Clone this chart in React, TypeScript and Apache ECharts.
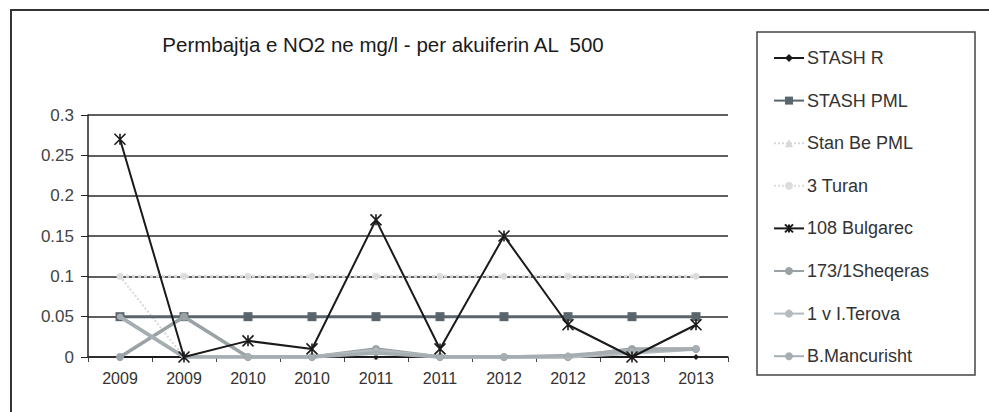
import React, { useEffect, useRef } from "react";
import * as echarts from "echarts";

const categories = ["2009", "2009", "2010", "2010", "2011", "2011", "2012", "2012", "2013", "2013"];
const seriesNames = ["STASH R", "STASH PML", "Stan Be PML", "3 Turan", "108 Bulgarec", "173/1Sheqeras", "1 v I.Terova", "B.Mancurisht"];
const stashR = [0, 0, 0, 0, 0, 0, 0, 0, 0, 0];
const stashPML = [0.05, 0.05, 0.05, 0.05, 0.05, 0.05, 0.05, 0.05, 0.05, 0.05];
const stanBePML = [0.1, 0, 0, 0, 0, 0, 0, 0, 0.005, 0.01];
const turan3 = [0.1, 0.1, 0.1, 0.1, 0.1, 0.1, 0.1, 0.1, 0.1, 0.1];
const bulgarec108 = [0.27, 0, 0.02, 0.01, 0.17, 0.01, 0.15, 0.04, 0, 0.04];
const sheqeras173 = [0, 0.05, 0, 0, 0.01, 0, 0, 0, 0.01, 0.01];
const terova1 = [0.05, 0, 0, 0, 0.008, 0, 0, 0, 0.005, 0.01];
const mancurisht = [0.05, 0, 0, 0, 0.005, 0, 0, 0.002, 0.008, 0.01];
const yTicks = [0, 0.05, 0.1, 0.15, 0.2, 0.25, 0.3];

const FONT = "'Liberation Sans', Arial, sans-serif";

export default function App() {
  const ref = useRef<HTMLDivElement>(null);
  useEffect(() => {
    document.body.style.margin = "0";
    const chart = echarts.init(ref.current!, null, { renderer: "svg" });
    const starPath = "path://M0,0L10,10M10,0L0,10M5,0L5,10";
    const mk = (name: string, data: number[], color: string, width: number, symbol: string, size: number, z: number, type: any = "solid") => ({
      name,
      type: "line",
      data,
      z,
      symbol,
      symbolSize: size,
      showSymbol: true,
      lineStyle: { color, width, type },
      itemStyle: { color, borderColor: color, borderWidth: symbol.startsWith("path") ? 1.6 : 0 },
      emphasis: { disabled: true },
    });
    chart.setOption({
      animation: false,
      backgroundColor: "#ffffff",
      title: {
        text: "Permbajtja e NO2 ne mg/l - per akuiferin AL  500",
        left: 378,
        top: 29,
        textAlign: "center",
        textStyle: { fontFamily: FONT, fontSize: 20.5, fontWeight: "normal", color: "#1a1a1a" },
      },
      graphic: [
        { type: "rect", shape: { x: 11, y: 10, width: 1000, height: 420 }, style: { fill: "none", stroke: "#333", lineWidth: 2 }, silent: true },
        { type: "rect", shape: { x: 757, y: 32, width: 218, height: 343 }, style: { fill: "none", stroke: "#444", lineWidth: 1.5 }, silent: true },
      ],
      legend: {
        orient: "vertical",
        left: 768,
        top: 44,
        itemGap: 24.6,
        itemWidth: 30,
        itemHeight: 10,
        data: seriesNames,
        textStyle: { fontFamily: FONT, fontSize: 18, color: "#333", padding: [0, 0, 0, -2] },
      },
      grid: { left: 88, right: 261, top: 115, bottom: 55 },
      xAxis: {
        type: "category",
        data: categories,
        boundaryGap: true,
        axisLine: { lineStyle: { color: "#222", width: 1.5 } },
        axisTick: { show: true, length: 5, lineStyle: { color: "#444" } },
        axisLabel: { fontFamily: FONT, fontSize: 16, color: "#333", margin: 13 },
        splitLine: { show: false },
      },
      yAxis: {
        type: "value",
        min: 0,
        max: 0.3,
        interval: 0.05,
        axisLine: { show: true, lineStyle: { color: "#222", width: 1.5 } },
        axisTick: { show: true, length: 7, lineStyle: { color: "#222" } },
        axisLabel: { fontFamily: FONT, fontSize: 17, color: "#444", margin: 14, formatter: (v: number) => (yTicks.includes(Number(v.toFixed(2))) ? String(Number(v.toFixed(2))) : "") },
        splitLine: { show: true, lineStyle: { color: "#2a2a2a", width: 1.5 } },
      },
      series: [
        mk(seriesNames[0], stashR, "#1a1a1a", 2, "diamond", 6, 3),
        mk(seriesNames[1], stashPML, "#5a666c", 3, "rect", 9, 4),
        mk(seriesNames[2], stanBePML, "#d8d8d8", 2, "triangle", 6, 2, "dotted"),
        mk(seriesNames[3], turan3, "#dcdcdc", 3, "circle", 7, 2, "dotted"),
        mk(seriesNames[4], bulgarec108, "#1a1a1a", 2, starPath, 11, 10),
        mk(seriesNames[5], sheqeras173, "#9aa2a6", 3.5, "circle", 8, 5),
        mk(seriesNames[6], terova1, "#b4bcc0", 3.5, "circle", 6, 5),
        mk(seriesNames[7], mancurisht, "#a6aeb2", 3.5, "circle", 6, 5),
      ],
    });
    return () => chart.dispose();
  }, []);
  return <div ref={ref} style={{ width: 989, height: 412, position: "absolute", left: 0, top: 0 }} />;
}
